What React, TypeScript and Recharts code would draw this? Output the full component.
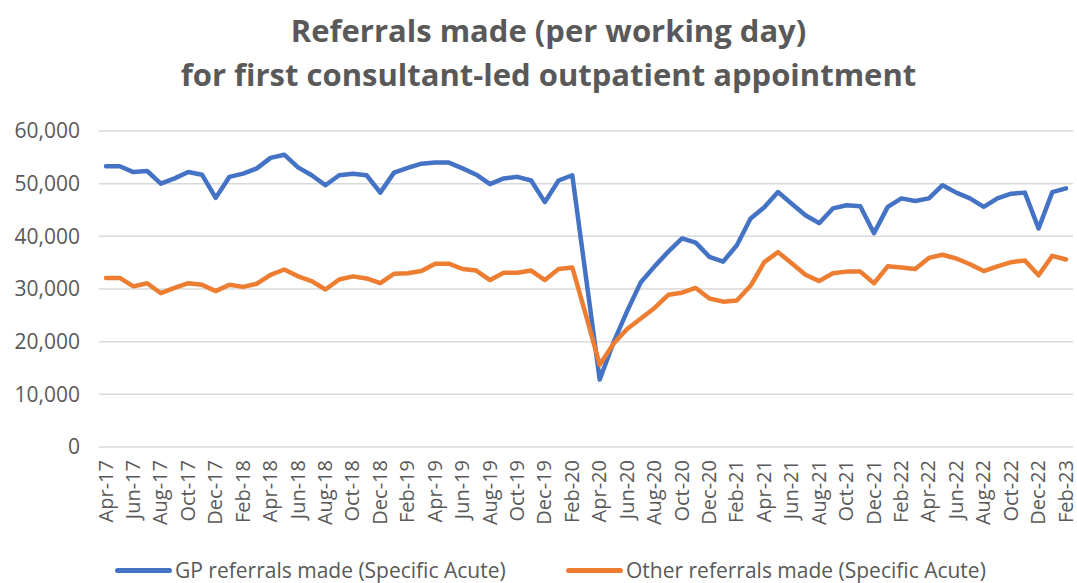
import { LineChart, Line, XAxis, YAxis, CartesianGrid } from 'recharts';

const months = [
  'Apr-17', 'May-17', 'Jun-17', 'Jul-17', 'Aug-17', 'Sep-17', 'Oct-17', 'Nov-17', 'Dec-17', 'Jan-18', 'Feb-18', 'Mar-18',
  'Apr-18', 'May-18', 'Jun-18', 'Jul-18', 'Aug-18', 'Sep-18', 'Oct-18', 'Nov-18', 'Dec-18', 'Jan-19', 'Feb-19', 'Mar-19',
  'Apr-19', 'May-19', 'Jun-19', 'Jul-19', 'Aug-19', 'Sep-19', 'Oct-19', 'Nov-19', 'Dec-19', 'Jan-20', 'Feb-20', 'Mar-20',
  'Apr-20', 'May-20', 'Jun-20', 'Jul-20', 'Aug-20', 'Sep-20', 'Oct-20', 'Nov-20', 'Dec-20', 'Jan-21', 'Feb-21', 'Mar-21',
  'Apr-21', 'May-21', 'Jun-21', 'Jul-21', 'Aug-21', 'Sep-21', 'Oct-21', 'Nov-21', 'Dec-21', 'Jan-22', 'Feb-22', 'Mar-22',
  'Apr-22', 'May-22', 'Jun-22', 'Jul-22', 'Aug-22', 'Sep-22', 'Oct-22', 'Nov-22', 'Dec-22', 'Jan-23', 'Feb-23',
];

const gpReferrals = [
  53300, 53300, 52200, 52400, 50000, 51000, 52200, 51700, 47300, 51300, 51900, 52900,
  54900, 55500, 53100, 51600, 49700, 51600, 51900, 51600, 48300, 52100, 53000, 53800,
  54000, 54000, 52900, 51700, 49900, 51000, 51300, 50600, 46500, 50600, 51600, 32200,
  12800, 19800, 25800, 31300, 34300, 37100, 39600, 38800, 36100, 35200, 38300, 43400,
  45500, 48400, 46200, 44000, 42500, 45300, 45900, 45700, 40600, 45600, 47200, 46700,
  47200, 49700, 48300, 47200, 45600, 47200, 48100, 48300, 41500, 48400, 49100,
];

const otherReferrals = [
  32100, 32100, 30500, 31100, 29200, 30200, 31100, 30800, 29600, 30800, 30400, 31000,
  32700, 33700, 32400, 31500, 29900, 31800, 32400, 32000, 31100, 32900, 33000, 33400,
  34800, 34800, 33800, 33500, 31700, 33100, 33100, 33500, 31700, 33800, 34100, 25000,
  15600, 19600, 22400, 24400, 26400, 28900, 29300, 30200, 28200, 27600, 27800, 30600,
  35100, 37000, 34900, 32700, 31500, 33000, 33300, 33300, 31100, 34300, 34100, 33800,
  35900, 36500, 35800, 34700, 33400, 34300, 35100, 35400, 32600, 36300, 35600,
];

const yTicks = [0, 10000, 20000, 30000, 40000, 50000, 60000];

const seriesNames = ['GP referrals made (Specific Acute)', 'Other referrals made (Specific Acute)'];
const seriesColors = ['#4472C4', '#ED7D31'];

const data = months.map((m, i) => ({ month: m, gp: gpReferrals[i], other: otherReferrals[i] }));

const FONT = '"Open Sans", sans-serif';
const TEXT = '#595959';

const XTick = ({ x, y, payload }: any) => (
  <text
    x={x - 1}
    y={y}
    transform={`rotate(-90 ${x - 1} ${y})`}
    textAnchor="end"
    dominantBaseline="central"
    fill={TEXT}
    fontSize={20}
    fontFamily={FONT}
  >
    {payload.value}
  </text>
);

const App = () => {
  return (
    <div style={{ position: 'absolute', left: 0, top: 0, width: 1077, height: 583, background: '#fff', fontFamily: FONT, overflow: 'hidden' }}>
      <div
        style={{
          position: 'absolute',
          top: 8,
          left: 20,
          width: 1057,
          textAlign: 'center',
          fontWeight: 700,
          fontSize: 31,
          lineHeight: '44px',
          color: TEXT,
        }}
      >
        <div>Referrals made (per working day)</div>
        <div>for first consultant-led outpatient appointment</div>
      </div>

      <LineChart width={1077} height={583} data={data} margin={{ top: 131, right: 4, bottom: 46, left: 0 }}>
        <CartesianGrid vertical={false} stroke="#d9d9d9" strokeWidth={1.5} />
        <XAxis
          dataKey="month"
          interval={1}
          axisLine={false}
          tickLine={false}
          tickSize={0}
          tickMargin={13}
          height={90}
          padding={{ left: 7, right: 7 }}
          tick={<XTick />}
        />
        <YAxis
          width={99}
          domain={[0, 60000]}
          ticks={yTicks}
          axisLine={false}
          tickLine={false}
          tickSize={0}
          tickMargin={19}
          tickFormatter={(v: number) => v.toLocaleString('en-GB')}
          tick={{ fill: TEXT, fontSize: 21, fontFamily: FONT }}
        />
        <Line
          type="linear"
          dataKey="gp"
          name={seriesNames[0]}
          stroke={seriesColors[0]}
          strokeWidth={4.5}
          strokeLinejoin="round"
          strokeLinecap="round"
          dot={false}
          isAnimationActive={false}
        />
        <Line
          type="linear"
          dataKey="other"
          name={seriesNames[1]}
          stroke={seriesColors[1]}
          strokeWidth={4.5}
          strokeLinejoin="round"
          strokeLinecap="round"
          dot={false}
          isAnimationActive={false}
        />
      </LineChart>

      {/* legend */}
      {seriesNames.map((name, i) => (
        <div
          key={name}
          style={{
            position: 'absolute',
            top: 558,
            left: i === 0 ? 115 : 566,
            height: 24,
            lineHeight: '24px',
            display: 'flex',
            alignItems: 'center',
            fontSize: 21,
            color: TEXT,
            whiteSpace: 'nowrap',
          }}
        >
          <div style={{ width: 57, height: 5, borderRadius: 3, background: seriesColors[i], marginRight: 3 }}></div>
          <span>{name}</span>
        </div>
      ))}
    </div>
  );
};

export default App;
